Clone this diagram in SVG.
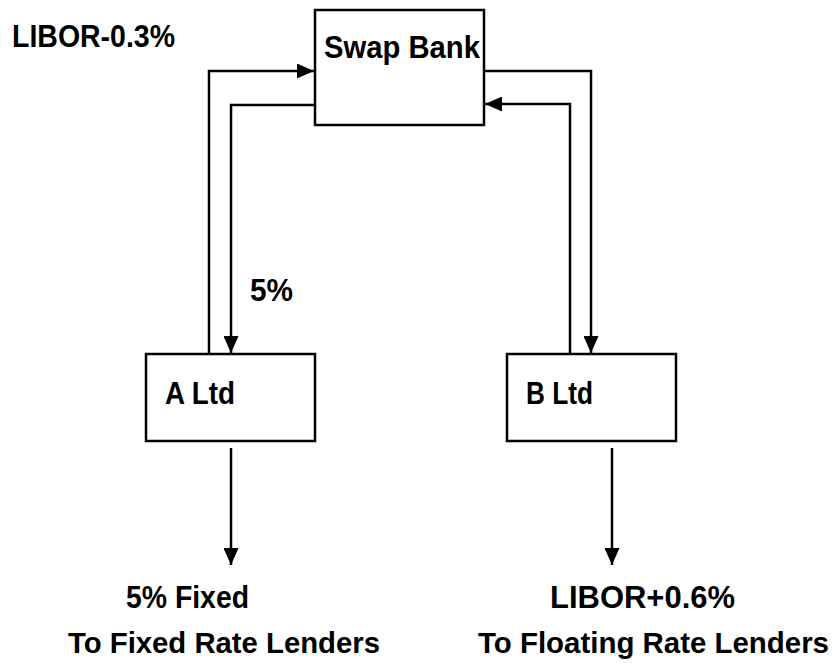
<svg xmlns="http://www.w3.org/2000/svg" width="837" height="664" viewBox="0 0 837 664">
<style>
.box{fill:#fff;stroke:#000;stroke-width:2.5}
.t{font-family:"Liberation Sans",Arial,sans-serif;font-weight:bold;font-size:31px;fill:#000}
.s{font-size:30px}
.c{fill:none;stroke:#000;stroke-width:2.5}
.ca{fill:none;stroke:#000;stroke-width:2.5}
</style>
<defs>
<marker id="ah" markerUnits="userSpaceOnUse" markerWidth="17" markerHeight="15" refX="17" refY="7.5" orient="auto">
<path d="M0,0 L17,7.5 L0,15 Z" fill="#000"/>
</marker>
</defs>
<rect width="837" height="664" fill="#fff"/>
<g id="connectors">
<polyline class="ca" points="209,354 209,71 314,71" marker-end="url(#ah)"/>
<polyline class="ca" points="315,105 231,105 231,353" marker-end="url(#ah)"/>
<polyline class="ca" points="484,71 591,71 591,353" marker-end="url(#ah)"/>
<polyline class="ca" points="570,354 570,104 485,104" marker-end="url(#ah)"/>
<line class="c" x1="231" y1="448" x2="231" y2="565" marker-end="url(#ah)"/>
<line class="c" x1="612" y1="448" x2="612" y2="565" marker-end="url(#ah)"/>
</g>
<g id="swap-bank">
<rect class="box" x="315" y="10" width="169" height="115"/>
<text class="t" x="324" y="58" textLength="156" lengthAdjust="spacingAndGlyphs">Swap Bank</text>
</g>
<g id="a-ltd">
<rect class="box" x="146" y="354" width="169" height="87"/>
<text class="t" x="165" y="404" textLength="70" lengthAdjust="spacingAndGlyphs">A Ltd</text>
</g>
<g id="b-ltd">
<rect class="box" x="507" y="354" width="169" height="87"/>
<text class="t" x="526" y="404" textLength="67" lengthAdjust="spacingAndGlyphs">B Ltd</text>
</g>
<g id="labels">
<text class="t" x="12" y="47" textLength="163" lengthAdjust="spacingAndGlyphs">LIBOR-0.3%</text>
<text class="t" x="250" y="301" textLength="43" lengthAdjust="spacingAndGlyphs">5%</text>
<text class="t" x="126" y="608" textLength="123" lengthAdjust="spacingAndGlyphs">5% Fixed</text>
<text class="t s" x="68" y="653" textLength="312" lengthAdjust="spacingAndGlyphs">To Fixed Rate Lenders</text>
<text class="t" x="550" y="608" textLength="185" lengthAdjust="spacingAndGlyphs">LIBOR+0.6%</text>
<text class="t s" x="478" y="653" textLength="351" lengthAdjust="spacingAndGlyphs">To Floating Rate Lenders</text>
</g>
</svg>
